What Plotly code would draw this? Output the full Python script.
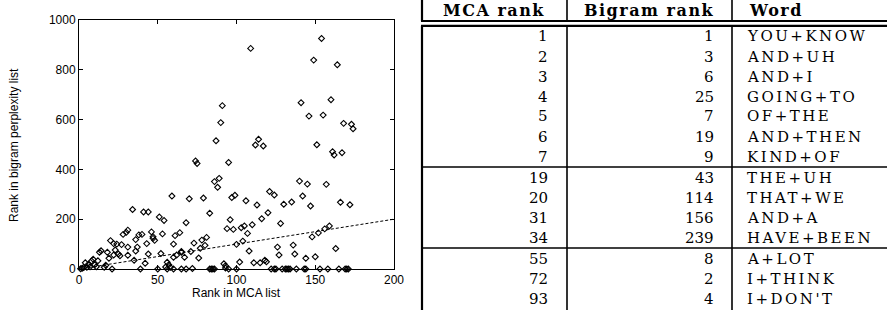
import plotly.graph_objects as go

# ---------------- scatter data ----------------
mca_x = [1, 2, 3, 4, 5, 6, 7, 8, 9, 10, 11, 12, 13, 14, 16, 17, 18, 19, 20, 21,
         22, 22, 23, 24, 25, 26, 27, 28, 30, 31, 31, 31, 34, 35, 36, 36, 37, 38, 39, 40,
         41, 42, 43, 44, 44, 46, 47, 47, 48, 50, 51, 52, 53, 54, 55, 56, 56, 57, 58, 59,
         60, 60, 60, 61, 62, 64, 65, 65, 65, 67, 68, 68, 70, 71, 72, 73, 74, 75, 76, 77,
         78, 79, 80, 81, 83, 83, 84, 85, 86, 86, 87, 88, 89, 90, 91, 92, 93, 93, 94, 95,
         95, 96, 97, 98, 99, 100, 100, 102, 103, 104, 105, 106, 107, 108, 109, 110, 111, 112, 113, 114,
         115, 116, 117, 118, 119, 120, 121, 122, 124, 124, 125, 126, 127, 128, 129, 130, 131, 132, 133, 134,
         135, 136, 137, 138, 140, 141, 142, 143, 144, 144, 145, 146, 147, 148, 149, 150, 151, 152, 153, 154,
         155, 156, 157, 158, 159, 160, 161, 162, 163, 164, 165, 166, 167, 168, 169, 170, 171, 172, 173, 174]
bigram_y = [1, 3, 6, 25, 7, 19, 9, 32, 39, 17, 9, 33, 67, 73, 7, 15, 67, 43, 114, 0,
            102, 56, 76, 100, 60, 53, 98, 139, 147, 156, 88, 55, 239, 35, 118, 72, 88, 137, 0, 139,
            229, 23, 102, 229, 60, 149, 130, 123, 115, 0, 209, 62, 141, 195, 8, 27, 0, 17, 7, 293,
            100, 47, 0, 134, 56, 146, 70, 67, 0, 47, 186, 0, 282, 70, 2, 104, 434, 424, 44, 83,
            116, 285, 95, 127, 224, 0, 0, 0, 0, 351, 515, 328, 364, 588, 656, 21, 4, 13, 162, 428,
            0, 198, 287, 159, 296, 99, 0, 28, 166, 112, 173, 274, 143, 72, 886, 178, 25, 498, 257, 521,
            25, 202, 494, 35, 29, 226, 311, 0, 297, 0, 0, 88, 56, 183, 0, 260, 0, 0, 0, 0,
            269, 96, 60, 0, 353, 668, 293, 0, 43, 0, 341, 614, 253, 129, 839, 49, 499, 145, 0, 926,
            618, 161, 340, 0, 173, 680, 471, 458, 82, 820, 0, 268, 467, 585, 0, 0, 0, 258, 581, 563]

ref_line_x = [0, 200]
ref_line_y = [0, 200]

x_ticks = [0, 50, 100, 150, 200]
y_ticks = [0, 200, 400, 600, 800, 1000]

# ---------------- table data ----------------
table_headers = ["MCA rank", "Bigram rank", "Word"]
mca_col = ["1", "2", "3", "4", "5", "6", "7", "19", "20", "31", "34", "55", "72", "93"]
bigram_col = ["1", "3", "6", "25", "7", "19", "9", "43", "114", "156", "239", "8", "2", "4"]
word_col = ["YOU+KNOW", "AND+UH", "AND+I", "GOING+TO", "OF+THE", "AND+THEN", "KIND+OF",
            "THE+UH", "THAT+WE", "AND+A", "HAVE+BEEN", "A+LOT", "I+THINK", "I+DON'T"]
group_sizes = [7, 4, 3]

W, H = 887, 310


def PX(px):
    return px / W


def PY(py):
    return 1 - py / H


fig = go.Figure()
fig.add_trace(go.Scatter(
    x=ref_line_x, y=ref_line_y, mode="lines",
    line=dict(color="black", width=1, dash="3px,2px"),
    showlegend=False, hoverinfo="skip"))
fig.add_trace(go.Scatter(
    x=mca_x, y=bigram_y, mode="markers",
    marker=dict(symbol="diamond-open", size=4.5, color="black", line=dict(width=1.1, color="black")),
    cliponaxis=False, showlegend=False))

axis_font = dict(family="Liberation Sans, Arial, sans-serif", size=12, color="black")

fig.update_xaxes(
    domain=[PX(79), PX(394)], range=[0, 200], tickvals=x_ticks,
    ticks="inside", ticklen=4, tickcolor="black", mirror="ticks",
    showline=True, linecolor="black", linewidth=1, showgrid=False, zeroline=False,
    tickfont=axis_font, automargin=False, fixedrange=True)
fig.update_yaxes(
    domain=[PY(269), PY(20)], range=[0, 1000], tickvals=y_ticks,
    ticks="inside", ticklen=4, tickcolor="black", mirror="ticks",
    showline=True, linecolor="black", linewidth=1, showgrid=False, zeroline=False,
    tickfont=axis_font, automargin=False, fixedrange=True)

annotations = [
    dict(text="Rank in MCA list", x=PX(236.5), y=PY(293), xref="paper", yref="paper",
         xanchor="center", yanchor="middle", showarrow=False, font=axis_font),
    dict(text="Rank in bigram perplexity list", x=PX(14), y=PY(145), xref="paper", yref="paper",
         xanchor="center", yanchor="middle", showarrow=False, textangle=-90, font=axis_font),
]

cell_font = dict(family="DejaVu Serif, serif", size=15, color="black")
head_font = dict(family="DejaVu Serif, serif", size=16, color="black")


def spaced(t, sp):
    return '<span style="letter-spacing:%spx">%s</span>' % (sp, t)


# header
annotations.append(dict(text="<b>%s</b>" % spaced(table_headers[0], 1.5), x=PX(494), y=PY(10.5),
                        xref="paper", yref="paper", xanchor="center", yanchor="middle",
                        showarrow=False, font=head_font))
annotations.append(dict(text="<b>%s</b>" % spaced(table_headers[1], 1.5), x=PX(649), y=PY(10.5),
                        xref="paper", yref="paper", xanchor="center", yanchor="middle",
                        showarrow=False, font=head_font))
annotations.append(dict(text="<b>%s</b>" % spaced(table_headers[2], 1.5), x=PX(747), y=PY(10.5),
                        xref="paper", yref="paper", xanchor="left", yanchor="middle",
                        showarrow=False, font=head_font))

# body rows
row_y = []
y = 36.5
sep_lines = []
for g, n in enumerate(group_sizes):
    for k in range(n):
        row_y.append(y)
        y += 20
    if g < len(group_sizes) - 1:
        sep_lines.append(y - 9.5)
        y += 1

for i in range(len(mca_col)):
    yy = PY(row_y[i])
    annotations.append(dict(text=mca_col[i], x=PX(550), y=yy, xref="paper", yref="paper",
                            xanchor="right", yanchor="middle", showarrow=False, font=cell_font))
    annotations.append(dict(text=bigram_col[i], x=PX(716), y=yy, xref="paper", yref="paper",
                            xanchor="right", yanchor="middle", showarrow=False, font=cell_font))
    annotations.append(dict(text=spaced(word_col[i], 2.5), x=PX(745), y=yy, xref="paper", yref="paper",
                            xanchor="left", yanchor="middle", showarrow=False, font=cell_font))

shapes = []


def hline(py, w):
    shapes.append(dict(type="line", xref="paper", yref="paper", x0=PX(421), x1=PX(887),
                       y0=PY(py), y1=PY(py), line=dict(color="black", width=w)))


def vline(px, y0, y1, w):
    shapes.append(dict(type="line", xref="paper", yref="paper", x0=PX(px), x1=PX(px),
                       y0=PY(y0), y1=PY(y1), line=dict(color="black", width=w)))


hline(21, 2.2)
hline(25.8, 2.2)
for s in sep_lines:
    hline(s, 1.6)
for px, w in [(422, 2.2), (567, 1.6), (732, 1.6)]:
    vline(px, 0, 21, w)
    vline(px, 25.8, 310, w)

fig.update_layout(
    width=W, height=H, margin=dict(l=0, r=0, t=0, b=0),
    paper_bgcolor="white", plot_bgcolor="white",
    annotations=annotations, shapes=shapes, showlegend=False)

fig.write_html("out.html", config={"displayModeBar": False},
               post_script="document.body.style.margin='0';document.body.style.overflow='hidden';")
